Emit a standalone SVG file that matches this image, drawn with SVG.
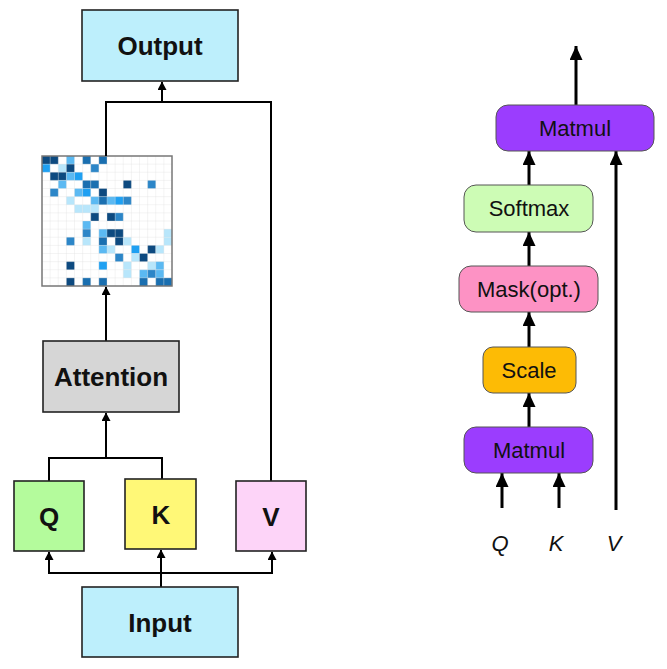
<svg xmlns="http://www.w3.org/2000/svg" width="667" height="669" viewBox="0 0 667 669">
<defs>
<marker id="ah" markerUnits="userSpaceOnUse" markerWidth="9" markerHeight="9" refX="8" refY="4.5" orient="auto"><path d="M0,0 L8.5,4.5 L0,9 z" fill="#000"/></marker>
<marker id="ahb" markerUnits="userSpaceOnUse" markerWidth="15" markerHeight="13" refX="14" refY="6.5" orient="auto"><path d="M0,0 L14,6.5 L0,13 z" fill="#000"/></marker>
</defs>
<style>
.box{stroke:#222;stroke-width:1.6}
.rb{stroke:#555;stroke-width:1}
.lb{font-family:"Liberation Sans",Arial,sans-serif;font-weight:bold;font-size:26px;text-anchor:middle;fill:#111}
.rt{font-family:"Liberation Sans",Arial,sans-serif;font-size:22px;text-anchor:middle;fill:#111}
.it{font-family:"Liberation Sans",Arial,sans-serif;font-style:italic;font-size:22px;text-anchor:middle;fill:#111}
.c{fill:none;stroke:#000;stroke-width:2}
.cb{fill:none;stroke:#000;stroke-width:3}
.d1{fill:#0d4a80}.d2{fill:#1a6fb0}.d3{fill:#2c86c8}.d4{fill:#1fa0f2}.d5{fill:#5bb9f2}.d6{fill:#b8e6fb}
</style>
<rect width="667" height="669" fill="#fff"/>

<g id="heatmap">
<rect x="42" y="156" width="130" height="130" fill="#fff"/>
<g transform="translate(42,156) scale(8.125)">
<rect class="d1" x="0" y="0" width="1" height="1"/><rect class="d1" x="1" y="0" width="1" height="1"/><rect class="d5" x="3" y="0" width="1" height="1"/><rect class="d2" x="5" y="0" width="1" height="1"/><rect class="d2" x="7" y="0" width="1" height="1"/>
<rect class="d4" x="0" y="1" width="1" height="1"/><rect class="d6" x="2" y="1" width="1" height="1"/><rect class="d1" x="3" y="1" width="1" height="1"/><rect class="d3" x="6" y="1" width="1" height="1"/>
<rect class="d1" x="1" y="2" width="1" height="1"/><rect class="d1" x="2" y="2" width="1" height="1"/><rect class="d5" x="3" y="2" width="1" height="1"/><rect class="d4" x="4" y="2" width="1" height="1"/>
<rect class="d5" x="2" y="3" width="1" height="1"/><rect class="d2" x="5" y="3" width="1" height="1"/><rect class="d2" x="6" y="3" width="1" height="1"/><rect class="d1" x="10" y="3" width="1" height="1"/><rect class="d3" x="13" y="3" width="1" height="1"/>
<rect class="d3" x="1" y="4" width="1" height="1"/><rect class="d5" x="4" y="4" width="1" height="1"/><rect class="d4" x="5" y="4" width="1" height="1"/><rect class="d1" x="7" y="4" width="1" height="1"/>
<rect class="d6" x="3" y="5" width="1" height="1"/><rect class="d5" x="6" y="5" width="1" height="1"/><rect class="d2" x="7" y="5" width="1" height="1"/><rect class="d5" x="8" y="5" width="1" height="1"/><rect class="d4" x="9" y="5" width="1" height="1"/><rect class="d3" x="10" y="5" width="1" height="1"/>
<rect class="d6" x="4" y="6" width="1" height="1"/><rect class="d6" x="5" y="6" width="1" height="1"/><rect class="d6" x="6" y="6" width="1" height="1"/>
<rect class="d1" x="6" y="7" width="1" height="1"/><rect class="d1" x="8" y="7" width="1" height="1"/><rect class="d3" x="9" y="7" width="1" height="1"/>
<rect class="d5" x="5" y="8" width="1" height="1"/>
<rect class="d3" x="5" y="9" width="1" height="1"/><rect class="d5" x="7" y="9" width="1" height="1"/><rect class="d1" x="8" y="9" width="1" height="1"/><rect class="d1" x="9" y="9" width="1" height="1"/><rect class="d6" x="15" y="9" width="1" height="1"/>
<rect class="d3" x="3" y="10" width="1" height="1"/><rect class="d6" x="5" y="10" width="1" height="1"/><rect class="d2" x="7" y="10" width="1" height="1"/><rect class="d1" x="9" y="10" width="1" height="1"/><rect class="d6" x="10" y="10" width="1" height="1"/><rect class="d6" x="15" y="10" width="1" height="1"/>
<rect class="d5" x="7" y="11" width="1" height="1"/><rect class="d6" x="8" y="11" width="1" height="1"/><rect class="d4" x="11" y="11" width="1" height="1"/><rect class="d1" x="13" y="11" width="1" height="1"/><rect class="d6" x="14" y="11" width="1" height="1"/>
<rect class="d3" x="9" y="12" width="1" height="1"/><rect class="d6" x="11" y="12" width="1" height="1"/><rect class="d1" x="12" y="12" width="1" height="1"/>
<rect class="d1" x="3" y="13" width="1" height="1"/><rect class="d4" x="7" y="13" width="1" height="1"/><rect class="d6" x="10" y="13" width="1" height="1"/><rect class="d6" x="13" y="13" width="1" height="1"/><rect class="d5" x="14" y="13" width="1" height="1"/>
<rect class="d6" x="10" y="14" width="1" height="1"/><rect class="d5" x="12" y="14" width="1" height="1"/><rect class="d3" x="13" y="14" width="1" height="1"/><rect class="d5" x="14" y="14" width="1" height="1"/>
<rect class="d1" x="3" y="15" width="1" height="1"/><rect class="d2" x="5" y="15" width="1" height="1"/><rect class="d2" x="7" y="15" width="1" height="1"/><rect class="d2" x="12" y="15" width="1" height="1"/><rect class="d2" x="14" y="15" width="1" height="1"/><rect class="d2" x="15" y="15" width="1" height="1"/>
<path d="M1,0V16M2,0V16M3,0V16M4,0V16M5,0V16M6,0V16M7,0V16M8,0V16M9,0V16M10,0V16M11,0V16M12,0V16M13,0V16M14,0V16M15,0V16M0,1H16M0,2H16M0,3H16M0,4H16M0,5H16M0,6H16M0,7H16M0,8H16M0,9H16M0,10H16M0,11H16M0,12H16M0,13H16M0,14H16M0,15H16" stroke="#ddd" stroke-width="0.06" fill="none" opacity="0.7"/>
</g>
<rect x="42" y="156" width="130" height="130" fill="none" stroke="#777" stroke-width="1.5"/>
</g>

<g id="connectors">
<path class="c" d="M106,156 V102 H271 V481"/>
<path class="c" d="M162,102 V82" marker-end="url(#ah)"/>
<path class="c" d="M106,341 V287" marker-end="url(#ah)"/>
<path class="c" d="M49,481 V458 H162 V479"/>
<path class="c" d="M106,458 V413" marker-end="url(#ah)"/>
<path class="c" d="M161,587 V550" marker-end="url(#ah)"/>
<path class="c" d="M49,573 H272"/>
<path class="c" d="M49,574 V552" marker-end="url(#ah)"/>
<path class="c" d="M272,574 V552" marker-end="url(#ah)"/>
<path class="cb" d="M576,105 V46" marker-end="url(#ahb)"/>
<path class="cb" d="M529,185 V151" marker-end="url(#ahb)"/>
<path class="cb" d="M529,266 V232" marker-end="url(#ahb)"/>
<path class="cb" d="M529,347 V312" marker-end="url(#ahb)"/>
<path class="cb" d="M529,427 V393" marker-end="url(#ahb)"/>
<path class="cb" d="M502,508 V473" marker-end="url(#ahb)"/>
<path class="cb" d="M559,508 V473" marker-end="url(#ahb)"/>
<path class="cb" d="M616,510 V151" marker-end="url(#ahb)"/>
</g>

<g id="output"><rect class="box" x="82" y="10" width="156" height="71" fill="#bdeffc"/><text class="lb" x="160" y="55">Output</text></g>
<g id="attention"><rect class="box" x="43" y="341" width="136" height="71" fill="#d6d6d6"/><text class="lb" x="111" y="386">Attention</text></g>
<g id="q"><rect class="box" x="14" y="481" width="70" height="70" fill="#b4fb9c"/><text class="lb" x="49" y="526">Q</text></g>
<g id="k"><rect class="box" x="125" y="479" width="71" height="70" fill="#fff877"/><text class="lb" x="161" y="524">K</text></g>
<g id="v"><rect class="box" x="236" y="481" width="70" height="70" fill="#fdd4f8"/><text class="lb" x="271" y="526">V</text></g>
<g id="input"><rect class="box" x="82" y="587" width="156" height="70" fill="#bdeffc"/><text class="lb" x="160" y="632">Input</text></g>

<g id="matmul2"><rect class="rb" x="496" y="105" width="158" height="46" rx="12" fill="#9b3dfe"/><text class="rt" x="575" y="136">Matmul</text></g>
<g id="softmax"><rect class="rb" x="464" y="185" width="129" height="47" rx="12" fill="#cdfcb5"/><text class="rt" x="529" y="216">Softmax</text></g>
<g id="mask"><rect class="rb" x="459" y="266" width="139" height="46" rx="12" fill="#fd92c4"/><text class="rt" x="529" y="297">Mask(opt.)</text></g>
<g id="scale"><rect class="rb" x="483" y="347" width="93" height="46" rx="10" fill="#fdbb05"/><text class="rt" x="529" y="378">Scale</text></g>
<g id="matmul1"><rect class="rb" x="464" y="427" width="129" height="46" rx="12" fill="#9b3dfe"/><text class="rt" x="529" y="458">Matmul</text></g>
<g id="labels"><text class="it" x="500" y="551">Q</text><text class="it" x="556" y="551">K</text><text class="it" x="614" y="551">V</text></g>
</svg>
